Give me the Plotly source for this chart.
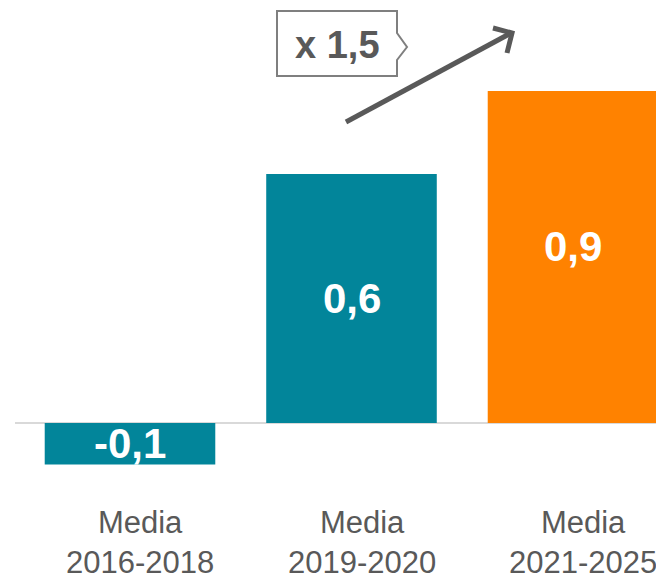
import plotly.graph_objects as go

# ---- data ----
categories = ["Media<br>2016-2018", "Media<br>2019-2020", "Media<br>2021-2025"]
bar_heights = [-0.1, 0.6, 0.8]          # heights as drawn in the picture
value_labels = ["-0,1", "0,6", "0,9"]   # printed labels
bar_colors = ["#02859A", "#02859A", "#FF8200"]
growth_label = "x 1,5"

OFF = 8  # default body margin of the page
W, H = 664 - OFF, 580 - OFF
ZERO_Y = 423 - OFF
PLOT_BOTTOM = 501 - OFF
ML, MR, MT = 15 - OFF, 0, 0
MB = H - PLOT_BOTTOM
PW, PH = W - ML - MR, H - MT - MB
UNIT = 415.0   # px per unit
CAT = 221.5    # px per category
label_yshift = [0, 0, 11]

def px(x):
    return (x - OFF - ML) / PW

def py(y):
    return (PLOT_BOTTOM - (y - OFF)) / PH

fig = go.Figure()
fig.add_trace(go.Bar(
    x=[0, 1, 2], y=bar_heights, marker=dict(color=bar_colors, line=dict(width=0)),
    width=0.77, hoverinfo="skip"))

for i, (h, lab) in enumerate(zip(bar_heights, value_labels)):
    fig.add_annotation(x=i, y=h / 2, xref="x", yref="y", text=f"<b>{lab}</b>",
                       showarrow=False, xanchor="center", yanchor="middle", yshift=label_yshift[i],
                       font=dict(family="Liberation Sans, Arial", size=42, color="white"))

grey = "#595959"
for i, cat in enumerate(categories):
    fig.add_annotation(x=i, y=0, xref="x", yref="paper", text=cat, showarrow=False,
                       xanchor="center", yanchor="top", xshift=10, yshift=-2,
                       font=dict(family="Liberation Sans, Arial", size=31, color=grey))

shapes = [
    dict(type="line", xref="paper", yref="paper", x0=px(346), y0=py(122), x1=px(511), y1=py(33),
         line=dict(color=grey, width=5)),
    dict(type="path", xref="paper", yref="paper",
         path=f"M {px(493)},{py(28)} L {px(512)},{py(33)} L {px(507)},{py(53)}",
         line=dict(color=grey, width=5)),
    dict(type="path", xref="paper", yref="paper",
         path=(f"M {px(277)},{py(11)} L {px(397)},{py(11)} L {px(397)},{py(33)} L {px(407)},{py(47)} "
               f"L {px(397)},{py(60)} L {px(397)},{py(76)} L {px(277)},{py(76)} Z"),
         line=dict(color="#7F7F7F", width=2), fillcolor="white"),
]
fig.update_layout(shapes=shapes)
fig.add_annotation(x=px(337), y=py(45), xref="paper", yref="paper", text=f"<b>{growth_label}</b>",
                   showarrow=False, xanchor="center", yanchor="middle",
                   font=dict(family="Liberation Sans, Arial", size=38, color=grey))

y_top = (ZERO_Y - MT) / UNIT
y_bot = -(PLOT_BOTTOM - ZERO_Y) / UNIT
x0 = -(130 - OFF - ML) / CAT
x1 = x0 + PW / CAT

fig.update_layout(
    width=W, height=H, margin=dict(l=ML, r=MR, t=MT, b=MB, pad=0),
    plot_bgcolor="white", paper_bgcolor="white", showlegend=False,
    xaxis=dict(range=[x0, x1], tickmode="array", tickvals=[0, 1, 2], ticktext=["", "", ""],
               showgrid=False, zeroline=False, showline=False, ticks="", showticklabels=False),
    yaxis=dict(range=[y_bot, y_top], showgrid=False, showticklabels=False, ticks="",
               zeroline=True, zerolinecolor="#D9D9D9", zerolinewidth=2, showline=False),
)
fig.write_html("out.html")
